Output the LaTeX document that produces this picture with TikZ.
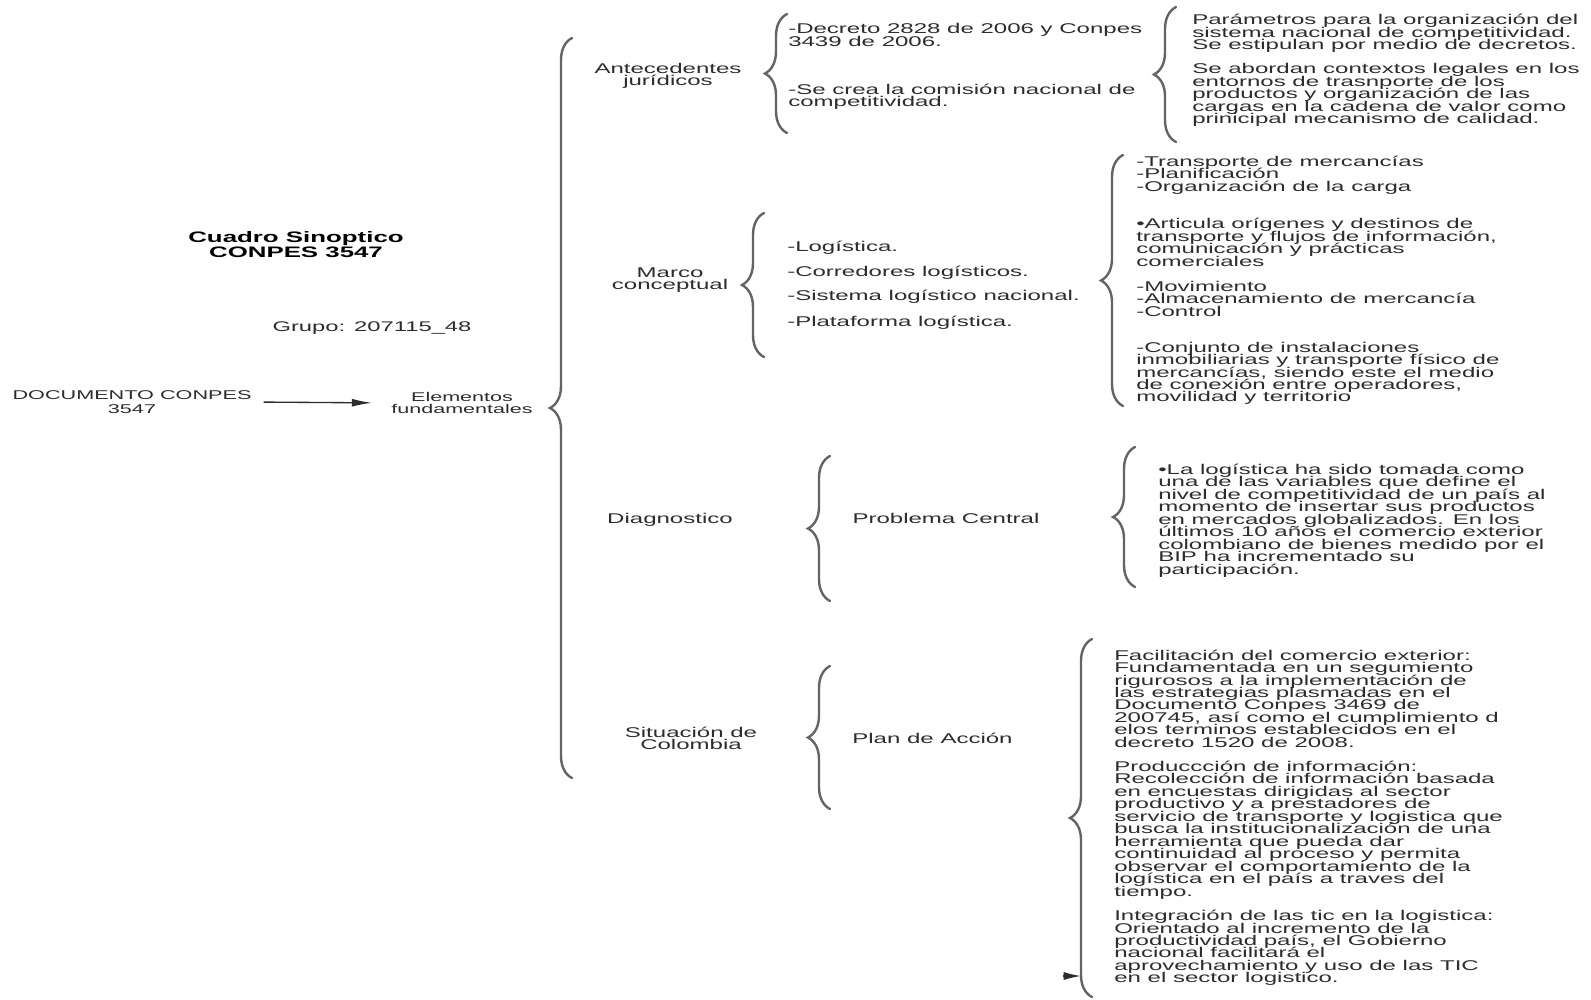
\documentclass[tikz,border=0pt]{standalone}
\usepackage{fontspec}
\setmainfont{Liberation Sans}[FakeStretch=1.7]
\usepackage{tikz}
\usetikzlibrary{decorations.pathreplacing,arrows.meta}
\definecolor{txtgray}{RGB}{45,45,45}
\definecolor{bracegray}{RGB}{100,100,100}
\lineskiplimit=-\maxdimen

\begin{document}
\begin{tikzpicture}[x=0.75pt,y=-0.75pt,
    txt/.style={inner sep=0pt,text=txtgray,align=left,anchor=west,font=\fontsize{10.6}{9.35}\selectfont},
    lbl/.style={inner sep=0pt,text=txtgray,align=center,font=\fontsize{10.6}{9}\selectfont},
    llave/.style={draw=bracegray,line width=1.8pt,line cap=round,decorate,decoration={brace,amplitude=16.5pt}}]
    \useasboundingbox[fill=white] (0,0) rectangle (1591,999);
    % left side
    \node[inner sep=0pt,align=center,font=\bfseries\fontsize{11.4}{11.25}\selectfont] (titulo) at (296,244.5) {Cuadro Sinoptico\\CONPES 3547};
    \node[lbl,font=\fontsize{10.5}{10}\selectfont] (grupo) at (372,328) {Grupo: 207115\_48};
    \node[lbl,font=\fontsize{9.55}{10.5}\selectfont] (doc) at (132,402) {DOCUMENTO CONPES\\3547};
    \node[lbl,font=\fontsize{9.5}{9}\selectfont] (elem) at (462,403) {Elementos\\fundamentales};
    \draw[-{Latex[length=15pt,width=6pt]},draw=txtgray,fill=txtgray,line width=1pt,shorten <=9pt,shorten >=14.5pt] (doc.east) -- (elem.west);
    \draw[llave] (572,778) -- (572,38);
    % Antecedentes
    \node[lbl] (antec) at (668,76) {Antecedentes\\jurídicos};
    \draw[llave] (787,133) -- (787,14);
    \node[txt] (decreto) at (788,35) {-Decreto 2828 de 2006 y Conpes\\3439 de 2006.};
    \node[txt] (comision) at (788,97) {-Se crea la comisión nacional de\\competitividad.};
    \draw[llave] (1176,142) -- (1176,7);
    \node[txt] (param) at (1192,33.5) {Parámetros para la organización del\\sistema nacional de competitividad.\\Se estipulan por medio de decretos.};
    \node[txt] (contextos) at (1192,95) {Se abordan contextos legales en los\\entornos de trasnporte de los\\productos y organización de las\\cargas en la cadena de valor como\\prinicipal mecanismo de calidad.};
    % Marco conceptual
    \node[lbl] (marco) at (670,280) {Marco\\conceptual};
    \draw[llave] (764,357) -- (764,213);
    \node[txt] (logistica) at (787,247.5) {-Logística.};
    \node[txt] (corredores) at (787,273) {-Corredores logísticos.};
    \node[txt] (sistema) at (787,297) {-Sistema logístico nacional.};
    \node[txt] (plataforma) at (787,322.6) {-Plataforma logística.};
    \draw[llave] (1123,406) -- (1123,155);
    \node[txt] (transporte) at (1136,175) {-Transporte de mercancías\\-Planificación\\-Organización de la carga};
    \node[txt] (articula) at (1136,242.5) {•Articula orígenes y destinos de\\transporte y flujos de información,\\comunicación y prácticas\\comerciales};
    \node[txt] (movimiento) at (1136,298.5) {-Movimiento\\-Almacenamiento de mercancía\\-Control};
    \node[txt] (conjunto) at (1136,373.4) {-Conjunto de instalaciones\\inmobiliarias y transporte físico de\\mercancías, siendo este el medio\\de conexión entre operadores,\\movilidad y territorio};
    % Diagnostico
    \node[lbl] (diag) at (670,519.5) {Diagnostico};
    \draw[llave] (830,601) -- (830,456);
    \node[lbl] (problema) at (946,518.5) {Problema Central};
    \draw[llave] (1135,587) -- (1135,447);
    \node[txt] (tomada) at (1158,520.5) {•La logística ha sido tomada como\\una de las variables que define el\\nivel de competitividad de un país al\\momento de insertar sus productos\\en mercados globalizados. En los\\últimos 10 años el comercio exterior\\colombiano de bienes medido por el\\BIP ha incrementado su\\participación.};
    % Situacion de Colombia
    \node[lbl] (situacion) at (691,738) {Situación de\\Colombia};
    \draw[llave] (830,809) -- (830,666);
    \node[lbl] (plan) at (932.5,738.7) {Plan de Acción};
    \draw[llave] (1092,997) -- (1092,639);
    \node[txt] (facilitacion) at (1114,698.6) {Facilitación del comercio exterior:\\Fundamentada en un segumiento\\rigurosos a la implementación de\\las estrategias plasmadas en el\\Documento Conpes 3469 de\\200745, así como el cumplimiento d\\elos terminos establecidos en el\\decreto 1520 de 2008.};
    \node[txt] (produccion) at (1114,830) {Produccción de información:\\Recolección de información basada\\en encuestas dirigidas al sector\\productivo y a prestadores de\\servicio de transporte y logistica que\\busca la institucionalización de una\\herramienta que pueda dar\\continuidad al proceso y permita\\observar el comportamiento de la\\logística en el país a traves del\\tiempo.};
    \node[txt] (integracion) at (1114,948) {Integración de las tic en la logistica:\\Orientado al incremento de la\\productividad país, el Gobierno\\nacional facilitará el\\aprovechamiento y uso de las TIC\\en el sector logistico.};
    \coordinate (cola) at (1063,976);
    \coordinate (punta) at (1081,976);
    \draw[-{Latex[length=13pt,width=6pt]},draw=txtgray,fill=txtgray,line width=1pt] (cola) -- (punta);
\end{tikzpicture}
\end{document}
